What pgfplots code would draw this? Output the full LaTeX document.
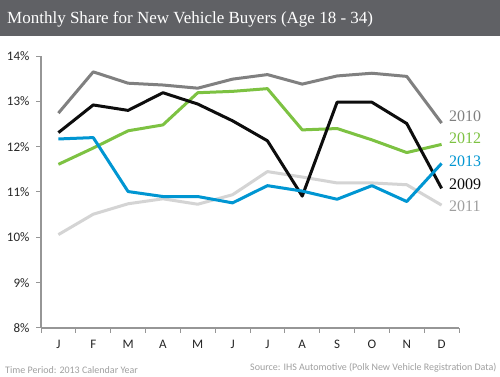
\documentclass[border=0pt]{standalone}
\usepackage{pgfplots}
\pgfplotsset{compat=1.18}
\usepackage{fontspec}
\setmainfont{Liberation Serif}
\newfontfamily\carlito{Carlito}
\definecolor{bar}{RGB}{96,97,101}
\definecolor{c2010}{RGB}{128,128,128}
\definecolor{c2009}{RGB}{13,13,13}
\definecolor{c2012}{RGB}{125,194,66}
\definecolor{c2013}{RGB}{0,150,210}
\definecolor{c2011}{RGB}{212,212,212}
\definecolor{axgray}{RGB}{150,150,150}
\definecolor{foot}{RGB}{160,160,160}
\begin{document}
\begin{tikzpicture}[x=1pt,y=1pt]
\path[use as bounding box, fill=white] (0,0) rectangle (500,377);
\fill[bar] (0,341) rectangle (500,377);
\node[anchor=west, text=white, font=\fontsize{17}{19}\selectfont, inner sep=0] at (7,358) {Monthly Share for New Vehicle Buyers (Age 18 - 34)};
\begin{axis}[
  at={(41pt,49pt)}, anchor=south west,
  scale only axis, width=418pt, height=272pt,
  xmin=0.5, xmax=12.5, ymin=8, ymax=14,
  axis x line=bottom, axis y line=left,
  axis line style={-, draw=axgray, line width=1.2pt},
  tick align=outside, major tick length=5pt, minor tick length=5pt,
  xtick={1,...,12},
  xticklabels={J,F,M,A,M,J,J,A,S,O,N,D},
  minor xtick={0.5,1.5,...,12.5},
  major x tick style={draw=none},
  minor x tick style={draw=axgray, line width=1pt},
  ytick={8,...,14},
  yticklabels={8\%,9\%,10\%,11\%,12\%,13\%,14\%},
  major y tick style={draw=axgray, line width=1pt},
  ticklabel style={font=\carlito\fontsize{13}{15}\selectfont, text=black!85},
  xticklabel style={yshift=-4pt},
  yticklabel style={xshift=-3pt},
  clip=false,
  every axis plot/.append style={line width=3pt, line join=round, no marks},
]
\addplot[c2011] coordinates {(1,10.06)(2,10.51)(3,10.74)(4,10.85)(5,10.73)(6,10.94)(7,11.45)(8,11.33)(9,11.20)(10,11.20)(11,11.16)(12,10.71)};
\addplot[c2010] coordinates {(1,12.74)(2,13.65)(3,13.40)(4,13.36)(5,13.29)(6,13.49)(7,13.59)(8,13.38)(9,13.56)(10,13.62)(11,13.55)(12,12.52)};
\addplot[c2012] coordinates {(1,11.61)(2,11.97)(3,12.35)(4,12.48)(5,13.19)(6,13.22)(7,13.28)(8,12.37)(9,12.40)(10,12.15)(11,11.87)(12,12.05)};
\addplot[c2009] coordinates {(1,12.31)(2,12.92)(3,12.80)(4,13.19)(5,12.94)(6,12.57)(7,12.13)(8,10.91)(9,12.98)(10,12.98)(11,12.51)(12,11.08)};
\addplot[c2013] coordinates {(1,12.17)(2,12.20)(3,11.01)(4,10.90)(5,10.90)(6,10.76)(7,11.14)(8,11.02)(9,10.84)(10,11.14)(11,10.79)(12,11.63)};
\end{axis}
\begin{scope}[every node/.style={anchor=west, inner sep=0, font=\fontsize{16}{18}\selectfont}]
\node[text=c2010] at (449,261) {2010};
\node[text=c2012] at (449,239) {2012};
\node[text=c2013] at (449,215.5) {2013};
\node[text=c2009] at (449,193) {2009};
\node[text=c2011!75!black] at (449,171) {2011};
\end{scope}
\node[anchor=west, inner sep=0, text=foot, font=\carlito\fontsize{10}{12}\selectfont] at (5,7) {Time Period: 2013 Calendar Year};
\node[anchor=west, inner sep=0, text=foot, font=\carlito\fontsize{10}{12}\selectfont] at (250,9) {Source: IHS Automotive (Polk New Vehicle Registration Data)};
\end{tikzpicture}
\end{document}
